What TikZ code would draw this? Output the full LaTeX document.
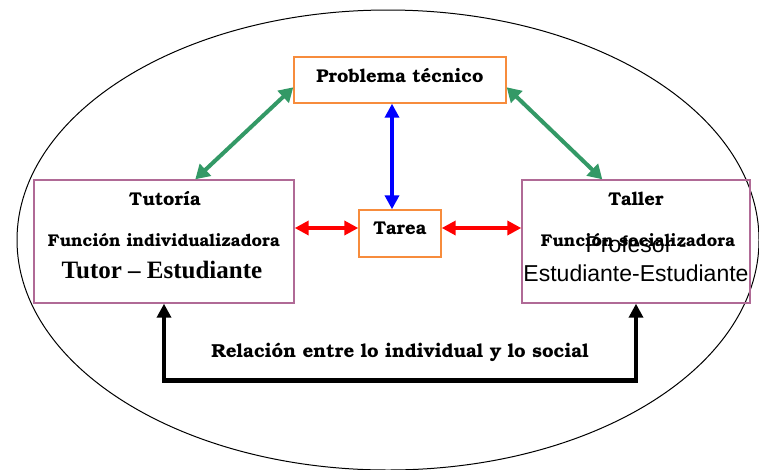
\documentclass[tikz,border=0pt]{standalone}
\usepackage{fontspec}
\setmainfont{Liberation Serif}
\newfontfamily\bk{TeX Gyre Bonum}
\newfontfamily\ar{Liberation Sans}
\usetikzlibrary{arrows.meta}
\definecolor{obox}{RGB}{247,140,60}
\definecolor{pbox}{RGB}{176,106,150}
\definecolor{grn}{RGB}{51,153,102}
\tikzset{
  obx/.style={draw=obox,line width=1.4pt,inner sep=0pt},
  pbx/.style={draw=pbox,line width=1.4pt,inner sep=0pt},
  lbl/.style={font=\bk\bfseries\fontsize{17}{19}\selectfont,inner sep=0pt},
  big/.style={font=\bk\bfseries\fontsize{18.5}{20}\selectfont,inner sep=0pt},
  garr/.style={draw=grn,line width=4pt,{Triangle[length=14pt,width=16pt]}-{Triangle[length=14pt,width=16pt]}},
  barr/.style={draw=blue,line width=4pt,{Triangle[length=14pt,width=14pt]}-{Triangle[length=14pt,width=14pt]}},
  rarr/.style={draw=red,line width=4pt,{Triangle[length=14pt,width=14pt]}-{Triangle[length=14pt,width=14pt]}},
  karr/.style={draw=black,line width=4.5pt,{Triangle[length=14pt,width=14pt]}-{Triangle[length=14pt,width=14pt]}},
}
\begin{document}
\begin{tikzpicture}[x=1pt,y=-1pt]
\useasboundingbox (0,0) rectangle (759,469);
\fill[white] (0,0) rectangle (759,469);
\draw[line width=1pt] (388,240) ellipse [x radius=371, y radius=230];
% boxes
\node[obx,minimum width=212pt,minimum height=46pt] (prob) at (400,80) {};
\node[pbx,minimum width=260pt,minimum height=123pt] (tut) at (164,241.5) {};
\node[pbx,minimum width=228pt,minimum height=123pt] (tal) at (636,241.5) {};
\node[obx,minimum width=82pt,minimum height=47pt] (tarea) at (400,233.5) {};
% texts
\node[big] (tprob) at (400,75) {Problema técnico};
\node[big] (ttar) at (400,228) {Tarea};
\node[big] (ttut) at (165,199) {Tutoría};
\node[lbl] (tfi) at (164,240) {Función individualizadora};
\node[font=\bfseries\fontsize{25}{27}\selectfont,inner sep=0pt] (tte) at (162,270) {Tutor – Estudiante};
\node[big] (ttal) at (636,199) {Taller};
\node[lbl] (tfs) at (638,240) {Función socializadora};
\node[font=\ar\fontsize{23}{25}\selectfont,inner sep=0pt] (tpr) at (636,244) {Profesor -};
\node[font=\ar\fontsize{23}{25}\selectfont,inner sep=0pt] (tee) at (636,273) {Estudiante-Estudiante};
\node[font=\bk\bfseries\fontsize{18.8}{20}\selectfont,inner sep=0pt] (trel) at (400,352) {Relación entre lo individual y lo social};
% connectors
\draw[garr] ([xshift=162pt]tut.north west) -- ([yshift=-31pt]prob.north west);
\draw[garr] ([yshift=-31pt]prob.north east) -- ([xshift=81pt]tal.north west);
\draw[barr] ([xshift=-8pt]prob.south) -- ([xshift=-8pt]tarea.north);
\coordinate (r1) at ([yshift=5.5pt]tarea.west);
\coordinate (r2) at ([yshift=5.5pt]tarea.east);
\draw[rarr] (r1 -| tut.east) -- (r1);
\draw[rarr] (r2) -- (r2 -| tal.west);
\draw[karr] (tut.south) -- ++(0,77) -| (tal.south);
\end{tikzpicture}
\end{document}
